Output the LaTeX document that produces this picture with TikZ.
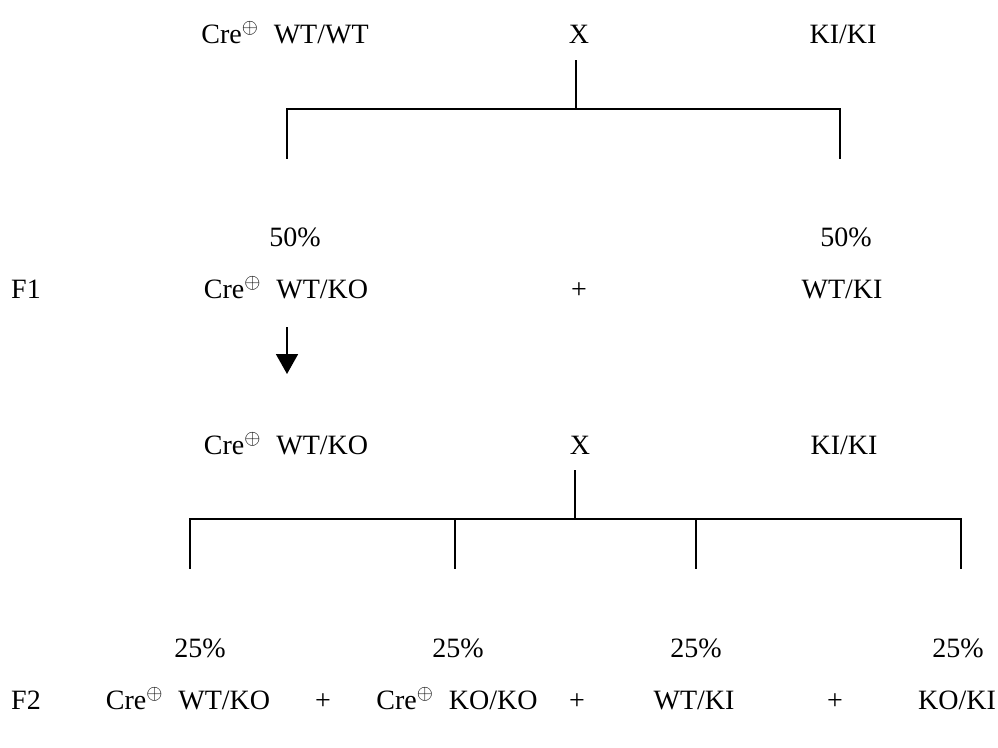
\documentclass[tikz,border=0pt]{standalone}
\usepackage{fontspec}
\setmainfont{Liberation Serif}
\usetikzlibrary{arrows.meta}
\newcommand{\creplus}{Cre$^{\oplus}$\hspace{0.55em}}
\begin{document}
\begin{tikzpicture}[x=1pt,y=-1pt,
  lbl/.style={inner sep=0pt,anchor=base,font=\fontsize{28}{32}\selectfont},
  conn/.style={line width=1.8pt,line cap=rect},
  arr/.style={line width=1.8pt,-{Triangle[width=22pt,length=20pt]}}]
\useasboundingbox (0,0) rectangle (998,747);
% Parents, first cross
\node[lbl] (p1) at (285,43) {\creplus WT/WT};
\node[lbl] (x1) at (579,43) {X};
\node[lbl] (p2) at (843,43) {KI/KI};
\coordinate (x1b) at (576,61);
\coordinate (j1) at (576,109);
\coordinate (l1t) at (287,109);
\coordinate (r1t) at (840,109);
\coordinate (l1b) at (287,158);
\coordinate (r1b) at (840,158);
\draw[conn] (x1b) -- (j1);
\draw[conn] (l1b) -- (l1t) -- (r1t) -- (r1b);
% F1
\node[lbl] (pc1) at (295,246) {50\%};
\node[lbl] (pc2) at (846,246) {50\%};
\node[lbl,anchor=base west] (f1) at (11,298) {F1};
\node[lbl] (o1) at (286,298) {\creplus WT/KO};
\node[lbl] (plus1) at (579,298) {+};
\node[lbl] (o2) at (842,298) {WT/KI};
\coordinate (at) at (287,327);
\coordinate (ab) at (287,374);
\draw[arr] (at) -- (ab);
% second cross
\node[lbl] (q1) at (286,454) {\creplus WT/KO};
\node[lbl] (x2) at (580,454) {X};
\node[lbl] (q2) at (844,454) {KI/KI};
\coordinate (x2b) at (575,471);
\coordinate (j2) at (575,519);
\coordinate (c1t) at (190,519);
\coordinate (c2t) at (455,519);
\coordinate (c3t) at (696,519);
\coordinate (c4t) at (961,519);
\coordinate (c1b) at (190,568);
\coordinate (c2b) at (455,568);
\coordinate (c3b) at (696,568);
\coordinate (c4b) at (961,568);
\draw[conn] (x2b) -- (j2);
\draw[conn] (c1b) -- (c1t) -- (c4t) -- (c4b);
\draw[conn] (c2t) -- (c2b);
\draw[conn] (c3t) -- (c3b);
% F2
\node[lbl] (s1) at (200,657) {25\%};
\node[lbl] (s2) at (458,657) {25\%};
\node[lbl] (s3) at (696,657) {25\%};
\node[lbl] (s4) at (958,657) {25\%};
\node[lbl,anchor=base west] (f2) at (11,709) {F2};
\node[lbl] (g1) at (188,709) {\creplus WT/KO};
\node[lbl] (plus2) at (323,709) {+};
\node[lbl] (g2) at (457,709) {\creplus KO/KO};
\node[lbl] (plus3) at (577,709) {+};
\node[lbl] (g3) at (694,709) {WT/KI};
\node[lbl] (plus4) at (835,709) {+};
\node[lbl] (g4) at (957,709) {KO/KI};
\end{tikzpicture}
\end{document}
